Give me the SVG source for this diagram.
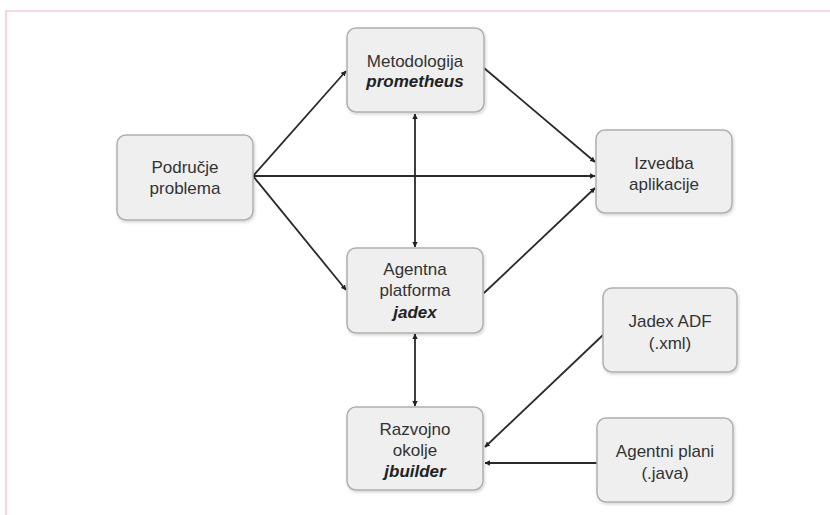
<svg xmlns="http://www.w3.org/2000/svg" width="830" height="515" viewBox="0 0 830 515">
<defs>
<marker id="ah" viewBox="0 0 6 6" refX="5.5" refY="3" markerWidth="3" markerHeight="3" orient="auto-start-reverse" markerUnits="strokeWidth">
<path d="M0,0 L6,3 L0,6 Z" fill="#222"/>
</marker>
<filter id="sh" x="-10%" y="-10%" width="125%" height="125%">
<feDropShadow dx="1" dy="1.5" stdDeviation="1.5" flood-color="#000" flood-opacity="0.18"/>
</filter>
</defs>
<style>
.box{fill:#efefef;stroke:#b0b0b0;stroke-width:1.5;filter:url(#sh)}
.t{font-family:"Liberation Sans",Arial,sans-serif;font-size:17px;fill:#333;text-anchor:middle}
.bi{font-weight:bold;font-style:italic;fill:#222}
.c{stroke:#2a2a2a;stroke-width:1.8;fill:none}
.frame{stroke:#f2b8c0;stroke-width:1.2;fill:none}
</style>
<rect width="830" height="515" fill="#ffffff"/>
<path class="frame" d="M6,515 V11 H830"/>
<g id="connectors">
<line class="c" x1="253" y1="176" x2="346" y2="71" marker-end="url(#ah)"/>
<line class="c" x1="253" y1="176" x2="595" y2="176" marker-end="url(#ah)"/>
<line class="c" x1="253" y1="176" x2="346" y2="290" marker-end="url(#ah)"/>
<line class="c" x1="484" y1="68" x2="595" y2="162" marker-end="url(#ah)"/>
<line class="c" x1="484" y1="293" x2="595" y2="188" marker-end="url(#ah)"/>
<line class="c" x1="415" y1="114" x2="415" y2="247" marker-start="url(#ah)" marker-end="url(#ah)"/>
<line class="c" x1="415" y1="334" x2="415" y2="406" marker-start="url(#ah)" marker-end="url(#ah)"/>
<line class="c" x1="603" y1="335" x2="485" y2="447" marker-end="url(#ah)"/>
<line class="c" x1="597" y1="463" x2="485" y2="463" marker-end="url(#ah)"/>
</g>
<g id="metodologija">
<rect class="box" x="347" y="28" width="137" height="84" rx="9"/>
<text class="t" x="415" y="67">Metodologija</text>
<text class="t bi" x="415" y="87">prometheus</text>
</g>
<g id="podrocje">
<rect class="box" x="117" y="135" width="136" height="85" rx="9"/>
<text class="t" x="185" y="173">Područje</text>
<text class="t" x="185" y="194">problema</text>
</g>
<g id="izvedba">
<rect class="box" x="596" y="130" width="136" height="83" rx="9"/>
<text class="t" x="664" y="169">Izvedba</text>
<text class="t" x="664" y="190">aplikacije</text>
</g>
<g id="agentna">
<rect class="box" x="347" y="248" width="136" height="85" rx="9"/>
<text class="t" x="415" y="275">Agentna</text>
<text class="t" x="415" y="296">platforma</text>
<text class="t bi" x="415" y="318">jadex</text>
</g>
<g id="razvojno">
<rect class="box" x="347" y="407" width="136" height="83" rx="9"/>
<text class="t" x="415" y="435">Razvojno</text>
<text class="t" x="415" y="456">okolje</text>
<text class="t bi" x="415" y="477">jbuilder</text>
</g>
<g id="jadexadf">
<rect class="box" x="603" y="288" width="134" height="84" rx="9"/>
<text class="t" x="670" y="327">Jadex ADF</text>
<text class="t" x="670" y="349">(.xml)</text>
</g>
<g id="agentniplani">
<rect class="box" x="597" y="418" width="136" height="84" rx="9"/>
<text class="t" x="665" y="457">Agentni plani</text>
<text class="t" x="665" y="479">(.java)</text>
</g>
</svg>
